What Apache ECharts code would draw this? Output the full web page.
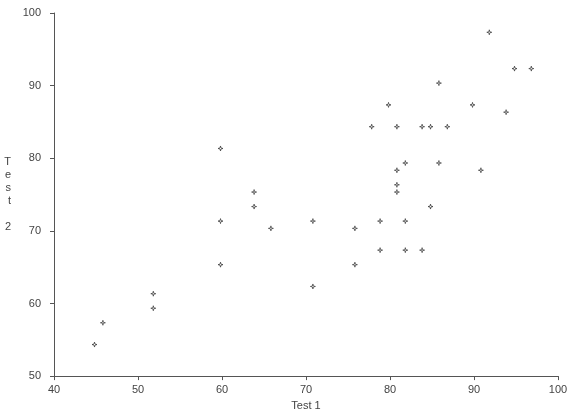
<!DOCTYPE html>
<html lang="en">
<head>
    <meta charset="UTF-8">
    <title>Test 1 vs Test 2</title>
    <style type="text/css">
        *{
            margin: 0px;
            padding: 0px;
        }
        body{
            background-color: #fff;
        }
        #scatter{
            width: 572px;
            height: 416px;
        }
    </style>
</head>
<body>
<div id="scatter"></div>
<script src="https://cdn.jsdelivr.net/npm/echarts@6/dist/echarts.min.js"></script>
<script type="text/javascript">
    // test scores
    var test1 = [45, 46, 52, 52, 60, 60, 60, 64, 64, 66, 71, 71, 76, 76, 78, 79, 79, 80, 81, 81, 81, 81,
                 82, 82, 82, 84, 84, 85, 85, 86, 86, 87, 90, 91, 92, 94, 95, 97];
    var test2 = [54, 57, 61, 59, 81, 71, 65, 75, 73, 70, 71, 62, 70, 65, 84, 71, 67, 87, 84, 78, 76, 75,
                 79, 71, 67, 84, 67, 84, 73, 90, 79, 84, 87, 78, 97, 86, 92, 92];
    var xTicks = [40, 50, 60, 70, 80, 90, 100];
    var yTicks = [50, 60, 70, 80, 90, 100];

    var points = [];
    for (var i = 0; i < test1.length; i++) {
        points.push([test1[i], test2[i]]);
    }

    var myChart = echarts.init(document.getElementById('scatter'));

    var axisText = {
        color: '#444',
        fontSize: 11,
        fontFamily: 'Liberation Sans, Arial, sans-serif'
    };

    var option = {
        animation: false,
        grid: {
            left: 54,
            right: 14,
            top: 13,
            bottom: 38
        },
        xAxis: {
            type: 'value',
            min: xTicks[0],
            max: xTicks[xTicks.length - 1],
            interval: 10,
            name: 'Test 1',
            nameLocation: 'middle',
            nameGap: 22,
            nameTextStyle: axisText,
            axisLine: {show: true, lineStyle: {color: '#555', width: 1}},
            axisTick: {show: true, length: 4, lineStyle: {color: '#555'}},
            axisLabel: {color: '#444', fontSize: 11, fontFamily: 'Liberation Sans, Arial, sans-serif', margin: 8},
            splitLine: {show: false}
        },
        yAxis: {
            type: 'value',
            min: yTicks[0],
            max: yTicks[yTicks.length - 1],
            interval: 10,
            name: 'T\ne\ns\nt\n\n2',
            nameLocation: 'middle',
            nameRotate: 0,
            nameGap: 43,
            nameTextStyle: {
                color: '#444',
                fontSize: 11,
                fontFamily: 'Liberation Sans, Arial, sans-serif',
                lineHeight: 13
            },
            axisLine: {show: true, lineStyle: {color: '#555', width: 1}},
            axisTick: {show: true, length: 4, lineStyle: {color: '#555'}},
            axisLabel: {color: '#444', fontSize: 11, fontFamily: 'Liberation Sans, Arial, sans-serif', margin: 13},
            splitLine: {show: false}
        },
        series: [{
            name: 'scores',
            type: 'scatter',
            symbol: 'path://M0,-10L2,-2L10,0L2,2L0,10L-2,2L-10,0L-2,-2Z',
            symbolSize: 5,
            symbolOffset: [-1.5, -2.5],
            itemStyle: {
                color: '#fff',
                borderColor: '#222',
                borderWidth: 0.8
            },
            data: points
        }]
    };
    myChart.setOption(option);
</script>
</body>
</html>
